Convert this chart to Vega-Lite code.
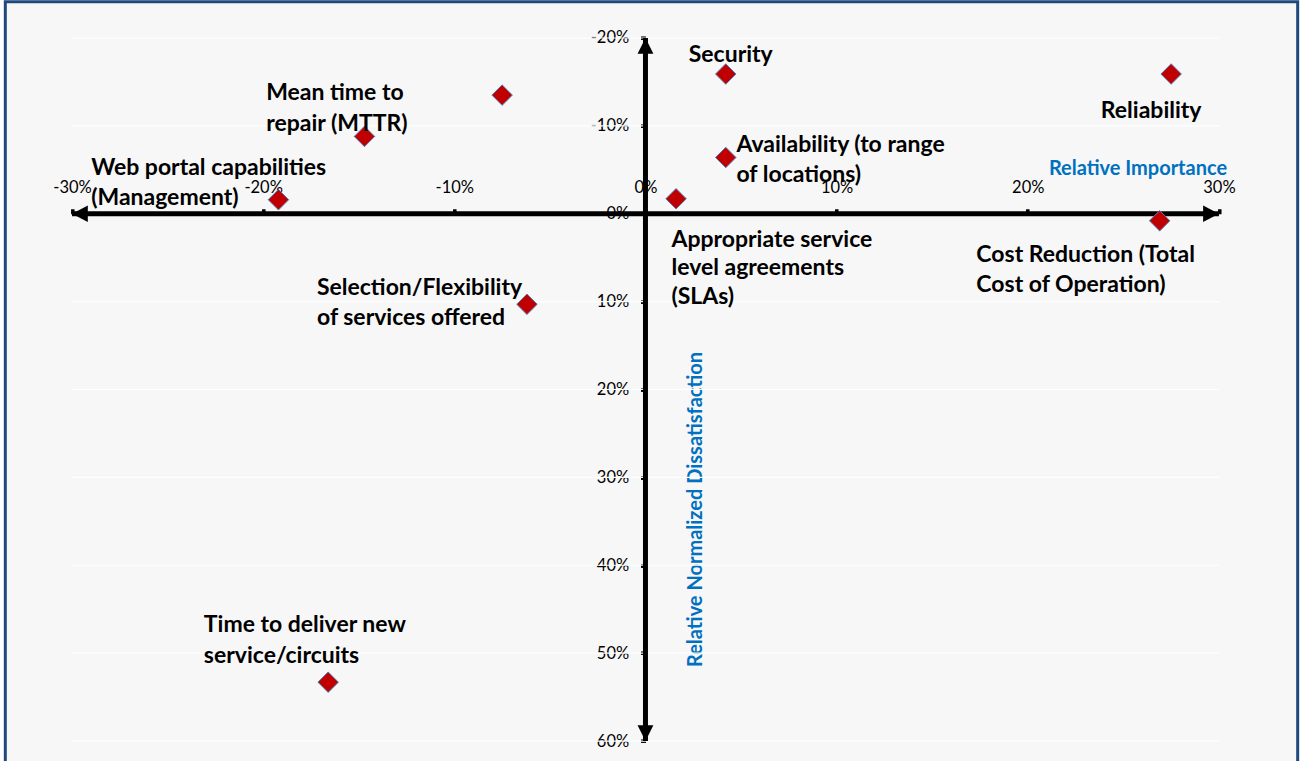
{
  "$schema": "https://vega.github.io/schema/vega-lite/v6.json",
  "width": 1292.4,
  "height": 765,
  "autosize": {"type": "none"},
  "padding": {"left": 5.3, "top": 1.7, "right": 4, "bottom": -6},
  "background": "#ffffff",
  "config": {
    "view": {"fill": "#f7f7f7", "stroke": "#1f497d", "strokeWidth": 3},
    "text": {"font": "Lato", "fontSize": 23, "fontWeight": "bold", "fill": "#000000", "align": "left", "baseline": "alphabetic", "lineBreak": "\n", "lineHeight": 30.5},
    "axis": {
      "labelFont": "Lato", "labelFontSize": 16.5, "labelColor": "#000000",
      "labelFlush": false, "labelOverlap": false, "labelBound": false,
      "tickColor": "#000000", "tickWidth": 3.5, "tickSize": 5,
      "domain": false, "grid": false,
      "titleFont": "Lato", "titleFontSize": 20, "titleFontWeight": "bold", "titleColor": "#0070c0"
    }
  },
  "datasets": {
    "factors": [
      {"factor": "Security", "importance": 4.2, "dissatisfaction": -15.9, "label": "Security"},
      {"factor": "Reliability", "importance": 27.5, "dissatisfaction": -15.9, "label": "Reliability"},
      {"factor": "(no label)", "importance": -7.5, "dissatisfaction": -13.5, "label": ""},
      {"factor": "Mean time to repair (MTTR)", "importance": -14.7, "dissatisfaction": -8.8, "label": "Mean time to\nrepair (MTTR)"},
      {"factor": "Web portal capabilities (Management)", "importance": -19.2, "dissatisfaction": -1.6, "label": "Web portal capabilities\n(Management)"},
      {"factor": "Availability (to range of locations)", "importance": 4.2, "dissatisfaction": -6.4, "label": "Availability (to range\nof locations)"},
      {"factor": "Appropriate service level agreements (SLAs)", "importance": 1.6, "dissatisfaction": -1.7, "label": "Appropriate service\nlevel agreements\n(SLAs)"},
      {"factor": "Cost Reduction (Total Cost of Operation)", "importance": 26.9, "dissatisfaction": 0.8, "label": "Cost Reduction (Total\nCost of Operation)"},
      {"factor": "Selection/Flexibility of services offered", "importance": -6.2, "dissatisfaction": 10.3, "label": "Selection/Flexibility\nof services offered"},
      {"factor": "Time to deliver new service/circuits", "importance": -16.6, "dissatisfaction": 53.3, "label": "Time to deliver new\nservice/circuits"}
    ],
    "gridlines": [
      {"importance": -30, "importanceEnd": 30, "dissatisfaction": -20},
      {"importance": -30, "importanceEnd": 30, "dissatisfaction": -10},
      {"importance": -30, "importanceEnd": 30, "dissatisfaction": 0},
      {"importance": -30, "importanceEnd": 30, "dissatisfaction": 10},
      {"importance": -30, "importanceEnd": 30, "dissatisfaction": 20},
      {"importance": -30, "importanceEnd": 30, "dissatisfaction": 30},
      {"importance": -30, "importanceEnd": 30, "dissatisfaction": 40},
      {"importance": -30, "importanceEnd": 30, "dissatisfaction": 50},
      {"importance": -30, "importanceEnd": 30, "dissatisfaction": 60}
    ],
    "axisLines": [
      {"axis": "importance", "importance": -30, "importanceEnd": 30, "dissatisfaction": 0, "dissatisfactionEnd": 0},
      {"axis": "dissatisfaction", "importance": 0, "importanceEnd": 0, "dissatisfaction": -20, "dissatisfactionEnd": 60}
    ],
    "axisEnds": [
      {"end": "left", "importance": -30, "dissatisfaction": 0},
      {"end": "right", "importance": 30, "dissatisfaction": 0},
      {"end": "up", "importance": 0, "dissatisfaction": -20},
      {"end": "down", "importance": 0, "dissatisfaction": 60}
    ]
  },
  "encoding": {
    "x": {
      "field": "importance", "type": "quantitative",
      "scale": {"domain": [-33.49, 34.12], "nice": false, "zero": false},
      "axis": {
        "orient": "top", "offset": -212.05,
        "values": [-30, -20, -10, 0, 10, 20, 30],
        "labelExpr": "datum.value + '%'",
        "labelPadding": 13, "labelAlign": "center",
        "title": "Relative Importance",
        "titleX": 1132.2, "titleY": -39, "titleAlign": "center", "titleBaseline": "alphabetic", "titleAngle": 0
      }
    },
    "y": {
      "field": "dissatisfaction", "type": "quantitative",
      "scale": {"domain": [-24.13, 62.92], "reverse": true, "nice": false, "zero": false},
      "axis": {
        "orient": "left", "offset": -640.2,
        "values": [-20, -10, 0, 10, 20, 30, 40, 50, 60],
        "labelExpr": "datum.value + '%'",
        "labelPadding": 11.8,
        "title": "Relative Normalized Dissatisfaction",
        "titleX": 56.5, "titleY": 507.3, "titleAlign": "center", "titleBaseline": "alphabetic", "titleAngle": -90
      }
    }
  },
  "layer": [
    {
      "data": {"name": "gridlines"},
      "mark": {"type": "rule", "color": "#ffffff", "strokeWidth": 1.2},
      "encoding": {"x2": {"field": "importanceEnd"}}
    },
    {
      "data": {"name": "axisLines"},
      "mark": {"type": "rule", "color": "#000000", "strokeWidth": 5},
      "encoding": {"x2": {"field": "importanceEnd"}, "y2": {"field": "dissatisfactionEnd"}}
    },
    {
      "data": {"name": "axisEnds"},
      "mark": {"type": "point", "filled": true, "color": "#000000", "opacity": 1, "size": 1000},
      "encoding": {
        "shape": {
          "field": "end", "type": "nominal", "legend": null,
          "scale": {
            "domain": ["left", "right", "up", "down"],
            "range": ["M0,0L1,-0.52L1,0.52Z", "M0,0L-1,-0.52L-1,0.52Z", "M0,0L-0.5,1L0.5,1Z", "M0,0L-0.5,-1L0.5,-1Z"]
          }
        }
      }
    },
    {
      "data": {"name": "factors"},
      "layer": [
        {
          "mark": {"type": "point", "shape": "diamond", "filled": true, "size": 420, "fill": "#c00000", "stroke": "#4f81bd", "strokeWidth": 1, "opacity": 1},
          "encoding": {"tooltip": [{"field": "factor"}]}
        },
        {"transform": [{"filter": "datum.factor === 'Security'"}], "mark": {"type": "text", "dx": -37, "dy": -12.3}, "encoding": {"text": {"field": "label"}}},
        {"transform": [{"filter": "datum.factor === 'Reliability'"}], "mark": {"type": "text", "dx": -70.3, "dy": 44.3}, "encoding": {"text": {"field": "label"}}},
        {"transform": [{"filter": "datum.factor === 'Mean time to repair (MTTR)'"}], "mark": {"type": "text", "dx": -98.3, "dy": -36}, "encoding": {"text": {"field": "label"}}},
        {"transform": [{"filter": "datum.factor === 'Web portal capabilities (Management)'"}], "mark": {"type": "text", "dx": -187.3, "dy": -25}, "encoding": {"text": {"field": "label"}}},
        {"transform": [{"filter": "datum.factor === 'Availability (to range of locations)'"}], "mark": {"type": "text", "dx": 10.7, "dy": -5.6}, "encoding": {"text": {"field": "label"}}},
        {"transform": [{"filter": "datum.factor === 'Appropriate service level agreements (SLAs)'"}], "mark": {"type": "text", "dx": -4.6, "dy": 47.7, "lineHeight": 29}, "encoding": {"text": {"field": "label"}}},
        {"transform": [{"filter": "datum.factor === 'Cost Reduction (Total Cost of Operation)'"}], "mark": {"type": "text", "dx": -183.3, "dy": 41}, "encoding": {"text": {"field": "label"}}},
        {"transform": [{"filter": "datum.factor === 'Selection/Flexibility of services offered'"}], "mark": {"type": "text", "dx": -210, "dy": -9.3}, "encoding": {"text": {"field": "label"}}},
        {"transform": [{"filter": "datum.factor === 'Time to deliver new service/circuits'"}], "mark": {"type": "text", "dx": -124.3, "dy": -50}, "encoding": {"text": {"field": "label"}}}
      ]
    }
  ]
}
